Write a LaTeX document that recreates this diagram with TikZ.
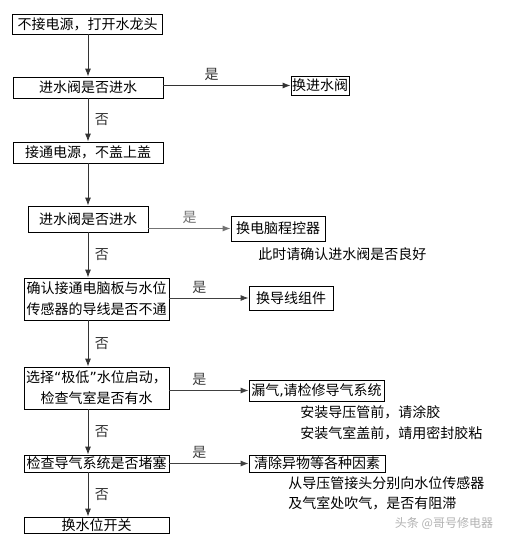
\documentclass[tikz,border=0pt]{standalone}
\usepackage{fontspec}
\setmainfont{Noto Sans CJK SC}
\newfontfamily\narrowpunct{DejaVu Sans}
\usetikzlibrary{arrows.meta}
\begin{document}
\begin{tikzpicture}[x=1pt,y=-1pt,>={Latex[length=8pt,width=6pt]},thick,
    line width=0.9pt,
    main node/.style={draw,line width=0.8pt,inner sep=0pt,font=\fontsize{14}{21}\selectfont,align=center},
    side node/.style={draw,line width=0.8pt,inner sep=0pt,font=\fontsize{14}{21}\selectfont},
    note/.style={inner sep=0pt,anchor=west,font=\fontsize{14}{21}\selectfont},
    lbl/.style={font=\fontsize{14}{21}\selectfont}]
    \useasboundingbox (0,0) rectangle (509,543);

    \node[main node,minimum width=150,minimum height=20] at (87.5, 24) (s1) {不接电源，打开水龙头};
    \node[main node,minimum width=150,minimum height=21] at (88, 87.5) (s2) {进水阀是否进水};
    \node[main node,minimum width=150,minimum height=21] at (88, 152.5) (s3) {接通电源，不盖上盖};
    \node[main node,minimum width=120,minimum height=26] at (88, 219) (s4) {进水阀是否进水};
    \node[main node,minimum width=145,minimum height=42] at (96.5, 299) (s5) {确认接通电脑板与水位\\传感器的导线是否不通};
    \node[main node,minimum width=145,minimum height=42] at (96.5, 388) (s6) {选择{\narrowpunct “}极低{\narrowpunct ”}水位启动，\\检查气室是否有水};
    \node[main node,minimum width=145,minimum height=17] at (96.5, 463.5) (s7) {检查导气系统是否堵塞};
    \node[main node,minimum width=145,minimum height=16] at (96.5, 525) (s8) {换水位开关};

    \node[side node,minimum width=58,minimum height=19] at (320, 85.5) (r2) {换进水阀};
    \node[side node,minimum width=94,minimum height=25] at (278, 228.5) (r4) {换电脑程控器};
    \node[side node,minimum width=84,minimum height=24] at (291, 298) (r5) {换导线组件};
    \node[side node,minimum width=135,minimum height=21] at (316.5, 390.5) (r6) {漏气{\narrowpunct ,}请检修导气系统};
    \node[side node,minimum width=136,minimum height=17] at (317, 463.5) (r7) {清除异物等各种因素};

    \node[note] at (258, 254) (n4) {此时请确认进水阀是否良好};
    \node[note] at (300, 412) (n6a) {安装导压管前，请涂胶};
    \node[note] at (300, 433) (n6b) {安装气室盖前，靖用密封胶粘};
    \node[note] at (288, 483) (n7a) {从导压管接头分别向水位传感器};
    \node[note] at (288, 503) (n7b) {及气室处吹气，是否有阻滞};
    \node[inner sep=0pt,text=black!30,font=\fontsize{12}{14}\selectfont] at (444, 523) (wm) {头条 @哥号修电器};

    % main line
    \draw[->,black!80] (s1.south -| 88,0) -- (s2.north -| 88,0);
    \draw[->,black!80] (s2.south -| 88,0) -- node[lbl,right=3pt] {否} (s3.north -| 88,0);
    \draw[->,black!80] (s3.south -| 88,0) -- (s4.north -| 88,0);
    \draw[->,black!80] (s4.south -| 88,0) -- node[lbl,right=3pt] {否} (s5.north -| 88,0);
    \draw[->,black!80] (s5.south -| 88,0) -- node[lbl,right=3pt] {否} (s6.north -| 88,0);
    \draw[->,black!80] (s6.south -| 88,0) -- node[lbl,right=3pt] {否} (s7.north -| 88,0);
    \draw[->,black!80] (s7.south -| 88,0) -- node[lbl,right=3pt] {否} (s8.north -| 88,0);

    % yes branches
    \draw[->,black!80] (s2.east |- r2.west) -- node[lbl,above=1pt,pos=0.38] {是} (r2.west);
    \draw[->,black!55] (s4.east |- r4.west) -- node[lbl,above=1pt,pos=0.5] {是} (r4.west);
    \draw[->,black!75] (s5.east |- r5.west) -- node[lbl,above=1pt,pos=0.38] {是} (r5.west);
    \draw[->,black!75] (s6.east |- r6.west) -- node[lbl,above=1pt,pos=0.38] {是} (r6.west);
    \draw[->,black!75] (s7.east |- r7.west) -- node[lbl,above=1pt,pos=0.38] {是} (r7.west);
\end{tikzpicture}
\end{document}
